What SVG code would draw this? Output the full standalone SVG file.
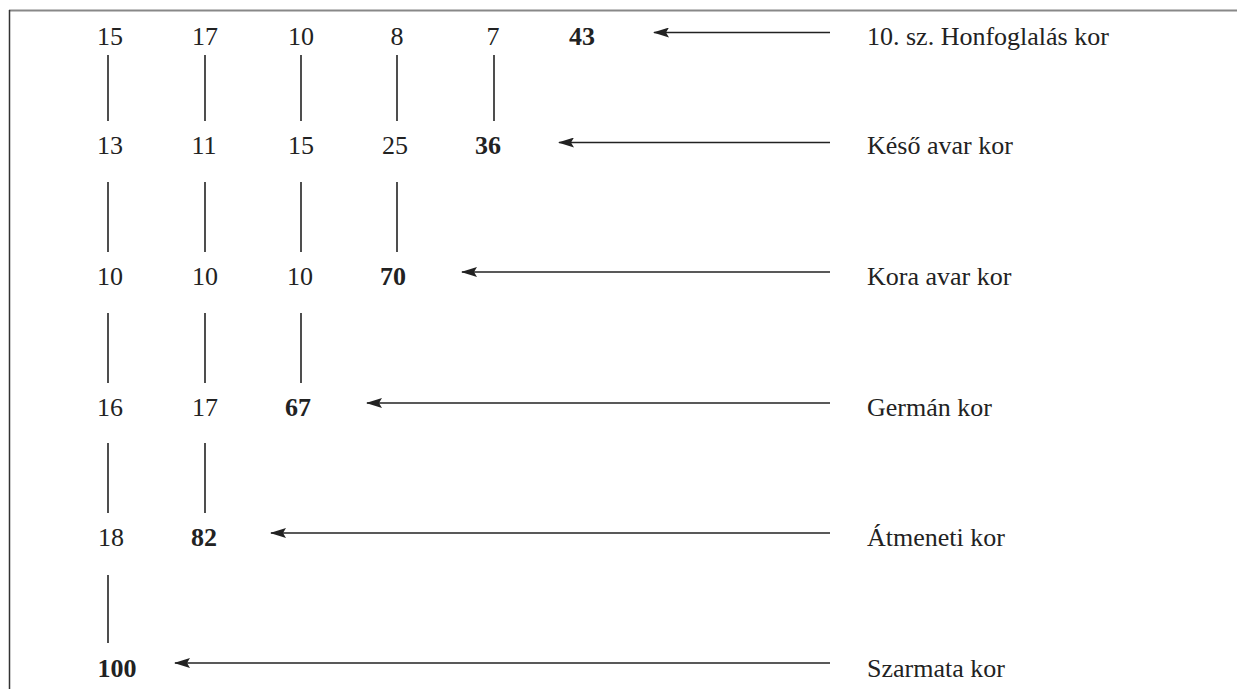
<svg xmlns="http://www.w3.org/2000/svg" width="1237" height="689" viewBox="0 0 1237 689">
<style>
text{font-family:"Liberation Serif","Times New Roman",serif;font-size:26px;fill:#222}
.n{text-anchor:middle}
.b{font-weight:bold}
.v{stroke:#222;stroke-width:1.6;fill:none}
.a{stroke:#222;stroke-width:1.6;fill:none;marker-end:url(#ah)}
</style>
<defs>
<marker id="ah" viewBox="0 0 16 10" refX="15" refY="5" markerWidth="16" markerHeight="10" markerUnits="userSpaceOnUse" orient="auto">
<path d="M0,0 L16,5 L0,10 L3,5 Z" fill="#222"/>
</marker>
</defs>
<rect x="0" y="0" width="1237" height="689" fill="#fff"/>
<g id="frame">
<line x1="9" y1="10.5" x2="1237" y2="10.5" stroke="#888" stroke-width="2"/>
<line x1="9.5" y1="10" x2="9.5" y2="689" stroke="#333" stroke-width="1.5"/>
</g>
<g id="connectors">
<line class="v" x1="108" y1="55" x2="108" y2="121"/>
<line class="v" x1="205" y1="55" x2="205" y2="121"/>
<line class="v" x1="301" y1="55" x2="301" y2="121"/>
<line class="v" x1="397" y1="55" x2="397" y2="121"/>
<line class="v" x1="494" y1="55" x2="494" y2="121"/>
<line class="v" x1="108" y1="182" x2="108" y2="252"/>
<line class="v" x1="205" y1="182" x2="205" y2="252"/>
<line class="v" x1="301" y1="182" x2="301" y2="252"/>
<line class="v" x1="397" y1="182" x2="397" y2="252"/>
<line class="v" x1="108" y1="313" x2="108" y2="383"/>
<line class="v" x1="205" y1="313" x2="205" y2="383"/>
<line class="v" x1="301" y1="313" x2="301" y2="383"/>
<line class="v" x1="108" y1="443" x2="108" y2="513"/>
<line class="v" x1="205" y1="443" x2="205" y2="513"/>
<line class="v" x1="108" y1="575" x2="108" y2="643"/>
<line class="a" x1="830" y1="32.5" x2="654" y2="32.5"/>
<line class="a" x1="830" y1="142.5" x2="559" y2="142.5"/>
<line class="a" x1="830" y1="272" x2="462" y2="272"/>
<line class="a" x1="830" y1="403" x2="367" y2="403"/>
<line class="a" x1="830" y1="533" x2="271" y2="533"/>
<line class="a" x1="830" y1="663" x2="175" y2="663"/>
</g>
<g id="row1">
<text class="n" x="110" y="45">15</text>
<text class="n" x="205" y="45">17</text>
<text class="n" x="301" y="45">10</text>
<text class="n" x="397" y="45">8</text>
<text class="n" x="493" y="45">7</text>
<text class="n b" x="582" y="45">43</text>
<text x="867" y="45">10. sz. Honfoglalás kor</text>
</g>
<g id="row2">
<text class="n" x="110" y="154">13</text>
<text class="n" x="204" y="154">11</text>
<text class="n" x="301" y="154">15</text>
<text class="n" x="395" y="154">25</text>
<text class="n b" x="488" y="154">36</text>
<text x="867" y="154">Késő avar kor</text>
</g>
<g id="row3">
<text class="n" x="110" y="285">10</text>
<text class="n" x="205" y="285">10</text>
<text class="n" x="300" y="285">10</text>
<text class="n b" x="393" y="285">70</text>
<text x="867" y="285">Kora avar kor</text>
</g>
<g id="row4">
<text class="n" x="110" y="416">16</text>
<text class="n" x="205" y="416">17</text>
<text class="n b" x="298" y="416">67</text>
<text x="867" y="416">Germán kor</text>
</g>
<g id="row5">
<text class="n" x="111" y="546">18</text>
<text class="n b" x="204" y="546">82</text>
<text x="867" y="546">Átmeneti kor</text>
</g>
<g id="row6">
<text class="n b" x="117" y="677">100</text>
<text x="867" y="677">Szarmata kor</text>
</g>
</svg>
